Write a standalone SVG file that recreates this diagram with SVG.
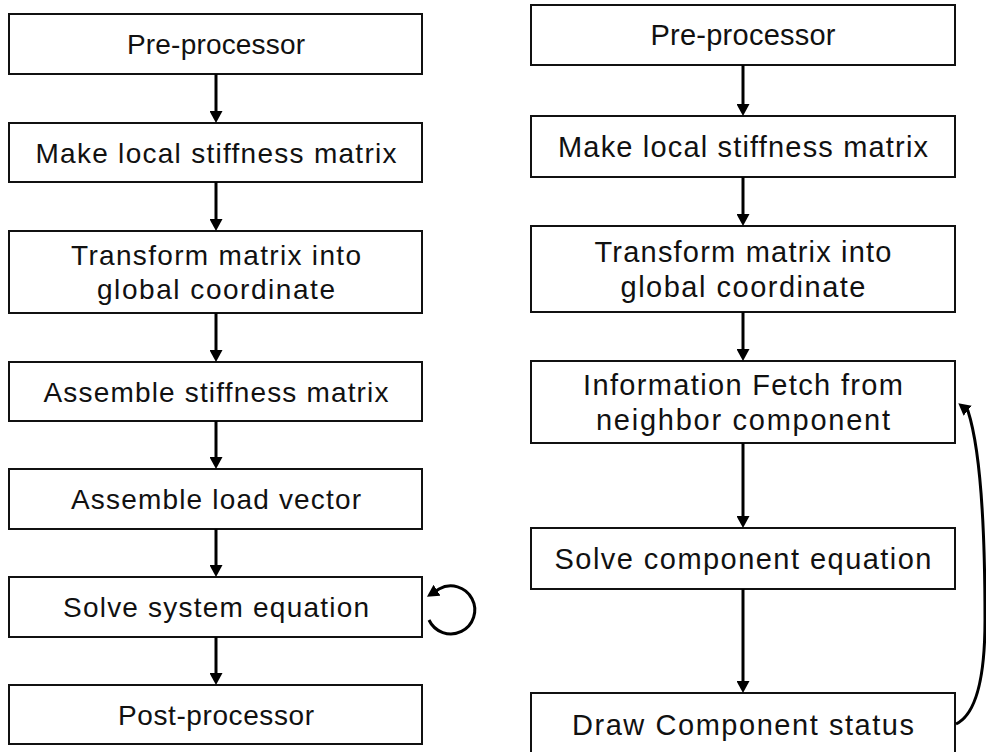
<svg xmlns="http://www.w3.org/2000/svg" width="986" height="752" viewBox="0 0 986 752">
  <style>
    .box { fill: #ffffff; stroke: #111111; stroke-width: 2; }
    .lbl { font-family: "Liberation Sans", Arial, sans-serif; font-size: 28px; fill: #111111; text-anchor: middle; }
    .lbl-r { font-size: 29px; }
    .link { fill: none; stroke: #000000; stroke-width: 3; marker-end: url(#head); }
  </style>
  <defs>
    <marker id="head" markerUnits="userSpaceOnUse" viewBox="0 0 12 13" markerWidth="12" markerHeight="13" refX="6" refY="6.5" orient="auto">
      <path d="M0 0 L12 6.5 L0 13 Z" fill="#000000"/>
    </marker>
  </defs>
  <rect width="986" height="752" fill="#ffffff"/>

  <!-- Left flow: conventional global solve -->
  <g id="l-pre">
    <rect class="box" x="9" y="14" width="413" height="60"/>
    <text class="lbl" x="216" y="54" textLength="178" lengthAdjust="spacing">Pre-processor</text>
  </g>
  <g id="l-local">
    <rect class="box" x="9" y="123" width="413" height="59"/>
    <text class="lbl" x="216" y="163" textLength="361" lengthAdjust="spacing">Make local stiffness matrix</text>
  </g>
  <g id="l-transform">
    <rect class="box" x="9" y="231" width="413" height="82"/>
    <text class="lbl" x="216" y="265" textLength="290" lengthAdjust="spacing">Transform matrix into</text>
    <text class="lbl" x="216" y="299" textLength="238" lengthAdjust="spacing">global coordinate</text>
  </g>
  <g id="l-assemble-k">
    <rect class="box" x="9" y="362" width="413" height="59"/>
    <text class="lbl" x="216" y="402" textLength="345" lengthAdjust="spacing">Assemble stiffness matrix</text>
  </g>
  <g id="l-assemble-f">
    <rect class="box" x="9" y="469" width="413" height="60"/>
    <text class="lbl" x="216" y="509" textLength="290" lengthAdjust="spacing">Assemble load vector</text>
  </g>
  <g id="l-solve">
    <rect class="box" x="9" y="577" width="413" height="60"/>
    <text class="lbl" x="216" y="617" textLength="306" lengthAdjust="spacing">Solve system equation</text>
  </g>
  <g id="l-post">
    <rect class="box" x="9" y="685" width="413" height="59"/>
    <text class="lbl" x="216" y="725" textLength="196" lengthAdjust="spacing">Post-processor</text>
  </g>

  <!-- Right flow: component-wise solve -->
  <g id="r-pre">
    <rect class="box" x="531" y="5" width="424" height="60"/>
    <text class="lbl lbl-r" x="743" y="45" textLength="185" lengthAdjust="spacing">Pre-processor</text>
  </g>
  <g id="r-local">
    <rect class="box" x="531" y="116" width="424" height="61"/>
    <text class="lbl lbl-r" x="743" y="157" textLength="370" lengthAdjust="spacing">Make local stiffness matrix</text>
  </g>
  <g id="r-transform">
    <rect class="box" x="531" y="226" width="424" height="86"/>
    <text class="lbl lbl-r" x="743" y="262" textLength="297" lengthAdjust="spacing">Transform matrix into</text>
    <text class="lbl lbl-r" x="743" y="297" textLength="245" lengthAdjust="spacing">global coordinate</text>
  </g>
  <g id="r-fetch">
    <rect class="box" x="531" y="361" width="424" height="82"/>
    <text class="lbl lbl-r" x="743" y="395" textLength="320" lengthAdjust="spacing">Information Fetch from</text>
    <text class="lbl lbl-r" x="743" y="430" textLength="294" lengthAdjust="spacing">neighbor component</text>
  </g>
  <g id="r-solve">
    <rect class="box" x="531" y="528" width="424" height="61"/>
    <text class="lbl lbl-r" x="743" y="569" textLength="377" lengthAdjust="spacing">Solve component equation</text>
  </g>
  <g id="r-draw">
    <rect class="box" x="531" y="693" width="424" height="64"/>
    <text class="lbl lbl-r" x="743" y="735" textLength="342" lengthAdjust="spacing">Draw Component status</text>
  </g>

  <g id="connectors">
    <!-- left column -->
    <path class="link" d="M216 74 V117"/>
    <path class="link" d="M216 182 V225"/>
    <path class="link" d="M216 313 V356"/>
    <path class="link" d="M216 421 V463"/>
    <path class="link" d="M216 529 V571"/>
    <path class="link" d="M216 637 V679"/>
    <!-- iteration loop on the system solve -->
    <path class="link" d="M429 620 A24 24 0 1 0 439 589 L432 593.5"/>
    <!-- right column -->
    <path class="link" d="M743 65 V110"/>
    <path class="link" d="M743 177 V220"/>
    <path class="link" d="M743 312 V355"/>
    <path class="link" d="M743 443 V522"/>
    <path class="link" d="M743 589 V687"/>
    <!-- feedback from status back to neighbour fetch -->
    <path class="link" d="M956 724 C975 715 985 680 985 620 C985 520 979 445 968 411 L963 407"/>
  </g>
</svg>
